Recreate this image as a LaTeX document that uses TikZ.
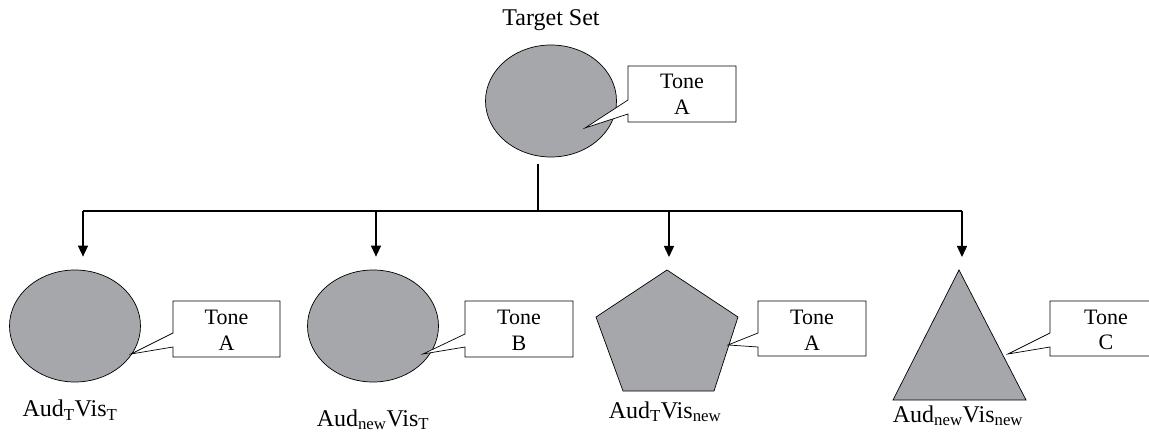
\documentclass[tikz,border=0pt]{standalone}
\usepackage{fontspec}
\setmainfont{Liberation Serif}
\usetikzlibrary{shapes.geometric,arrows.meta}
\definecolor{shapegray}{RGB}{166,167,171}
\tikzset{
  shp/.style={draw=black, line width=0.7pt, fill=shapegray},
  oval/.style={shp, ellipse, inner sep=0pt, minimum width=131pt, minimum height=112pt},
  conn/.style={draw=black, line width=1.3pt},
  arr/.style={conn, -{Triangle[length=11pt,width=10pt]}, shorten >=13pt},
  callbox/.style={draw=black, line width=0.7pt, fill=white},
  tonetxt/.style={align=center, inner sep=0pt, font=\fontsize{22}{25.7}\selectfont},
  lbl/.style={anchor=base, inner sep=0pt, font=\fontsize{24}{28}\selectfont},
}
\begin{document}
\begin{tikzpicture}[x=1pt,y=-1pt]
\useasboundingbox (0,0) rectangle (1149,438);
\clip (0,0) rectangle (1149,438);

% title
\node[lbl] (title) at (551,25.7) {Target Set};

% top ellipse and callout
\node[oval] (top) at (551,101) {};
\draw[callbox] (628,66) -- (736,66) -- (736,122) -- (628,122) -- (628,114) -- (585,128) -- (628,100) -- cycle;
\node[tonetxt] (toneT) at (682,94) {Tone\\A};

% children
\node[oval] (e1) at (75,326) {};
\node[oval] (e2) at (373,326) {};
\draw[shp] (667,270) -- (738,317) -- (714,391) -- (623,391) -- (596,317) -- cycle;
\coordinate (pent) at (667,270);
\draw[shp] (959,270) -- (1026,400) -- (893,400) -- cycle;
\coordinate (tri) at (959,270);

% callouts
\draw[callbox] (173,301) -- (280,301) -- (280,357) -- (173,357) -- (173,347) -- (131,354) -- (173,333) -- cycle;
\node[tonetxt] (tone1) at (226.5,330) {Tone\\A};
\draw[callbox] (465,301) -- (573,301) -- (573,357) -- (465,357) -- (465,347) -- (423,354) -- (465,334) -- cycle;
\node[tonetxt] (tone2) at (519,330) {Tone\\B};
\draw[callbox] (758,301) -- (866,301) -- (866,356) -- (758,356) -- (758,347) -- (728,345) -- (758,333) -- cycle;
\node[tonetxt] (tone3) at (812,330) {Tone\\A};
\draw[callbox] (1050,301) -- (1162,301) -- (1162,356) -- (1050,356) -- (1050,347) -- (1008,354) -- (1050,333) -- cycle;
\node[tonetxt] (tone4) at (1106,330) {Tone\\C};

% labels
\node[lbl] (l1) at (70,417) {Aud\textsubscript{T}Vis\textsubscript{T}};
\node[lbl] (l2) at (373,426) {Aud\textsubscript{new}Vis\textsubscript{T}};
\node[lbl] (l3) at (665,418) {Aud\textsubscript{T}Vis\textsubscript{new}};
\node[lbl] (l4) at (958,422) {Aud\textsubscript{new}Vis\textsubscript{new}};

% connectors
\coordinate (stem) at (538,164);
\coordinate (hub) at (538,211);
\coordinate (j1) at (83,211);
\coordinate (j2) at (376,211);
\coordinate (j3) at (669,211);
\coordinate (j4) at (962,211);
\draw[conn] (stem) -- (hub);
\draw[conn] (j1) -- (j4);
\draw[arr] (j1) -- (j1 |- e1.north);
\draw[arr] (j2) -- (j2 |- e2.north);
\draw[arr] (j3) -- (j3 |- pent);
\draw[arr] (j4) -- (j4 |- tri);
\end{tikzpicture}
\end{document}
